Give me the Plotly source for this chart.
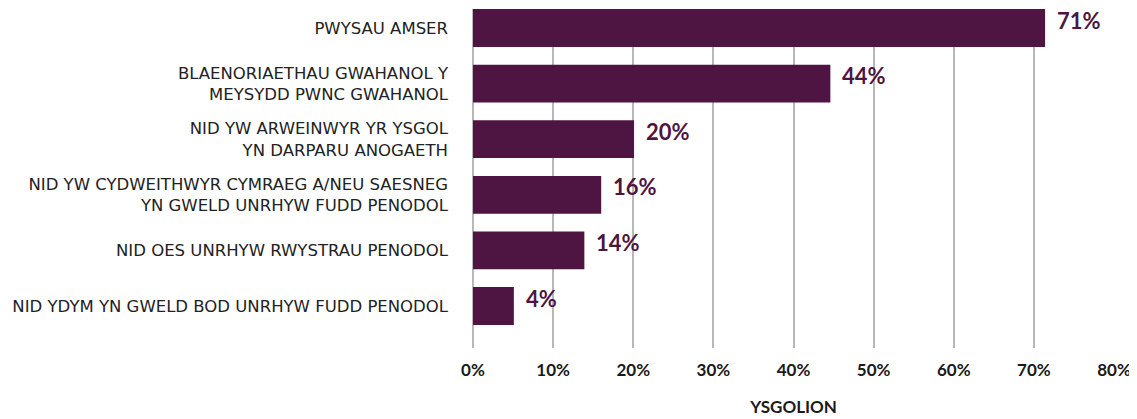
import plotly.graph_objects as go

categories = [
    "PWYSAU AMSER",
    "BLAENORIAETHAU GWAHANOL Y<br>MEYSYDD PWNC GWAHANOL",
    "NID YW ARWEINWYR YR YSGOL<br>YN DARPARU ANOGAETH",
    "NID YW CYDWEITHWYR CYMRAEG A/NEU SAESNEG<br>YN GWELD UNRHYW FUDD PENODOL",
    "NID OES UNRHYW RWYSTRAU PENODOL",
    "NID YDYM YN GWELD BOD UNRHYW FUDD PENODOL",
]
values = [71.4, 44.6, 20.1, 16.0, 13.9, 5.1]
labels = ["71%", "44%", "20%", "16%", "14%", "4%"]
tick_vals = [0, 10, 20, 30, 40, 50, 60, 70, 80]
tick_text = ["0%", "10%", "20%", "30%", "40%", "50%", "60%", "70%", "80%"]
x_title = "YSGOLION"

BAR = "#4f1542"
GRID = "#b8b8b8"

fig = go.Figure()
fig.add_trace(go.Bar(
    x=values, y=list(range(len(categories))), orientation="h",
    marker=dict(color=BAR, line=dict(width=0)),
    width=0.68,
    hoverinfo="skip",
))

for i, (v, t) in enumerate(zip(values, labels)):
    fig.add_annotation(
        x=v, y=i, text="<b>" + t + "</b>", showarrow=False,
        xanchor="left", yanchor="middle", xshift=10, yshift=8,
        font=dict(family="Lato", size=22, color=BAR),
    )

fig.update_layout(
    width=1129, height=411,
    margin=dict(l=465, r=23, t=1, b=71),
    paper_bgcolor="white", plot_bgcolor="white",
    showlegend=False,
    font=dict(family="DejaVu Sans", color="#222222"),
)
fig.update_xaxes(
    range=[0, 80], tickvals=tick_vals, ticktext=tick_text,
    showgrid=True, gridcolor=GRID, gridwidth=1.5,
    zeroline=True, zerolinecolor=GRID, zerolinewidth=1.5,
    ticks="", ticklabelstandoff=10,
    tickfont=dict(family="Lato", size=17, color="#1a1a1a", weight="bold"),
    title=dict(text="<b>" + x_title + "</b>", font=dict(family="Lato", size=17, color="#1a1a1a"), standoff=22),
    showline=False,
)
fig.update_yaxes(
    range=[5.755, -0.342],
    tickvals=list(range(len(categories))), ticktext=categories,
    showgrid=False, zeroline=False, ticks="", showline=False,
    ticklabelstandoff=24,
    tickfont=dict(family="DejaVu Sans", size=16.5, color="#222222"),
)

fig.write_html("out.html")
